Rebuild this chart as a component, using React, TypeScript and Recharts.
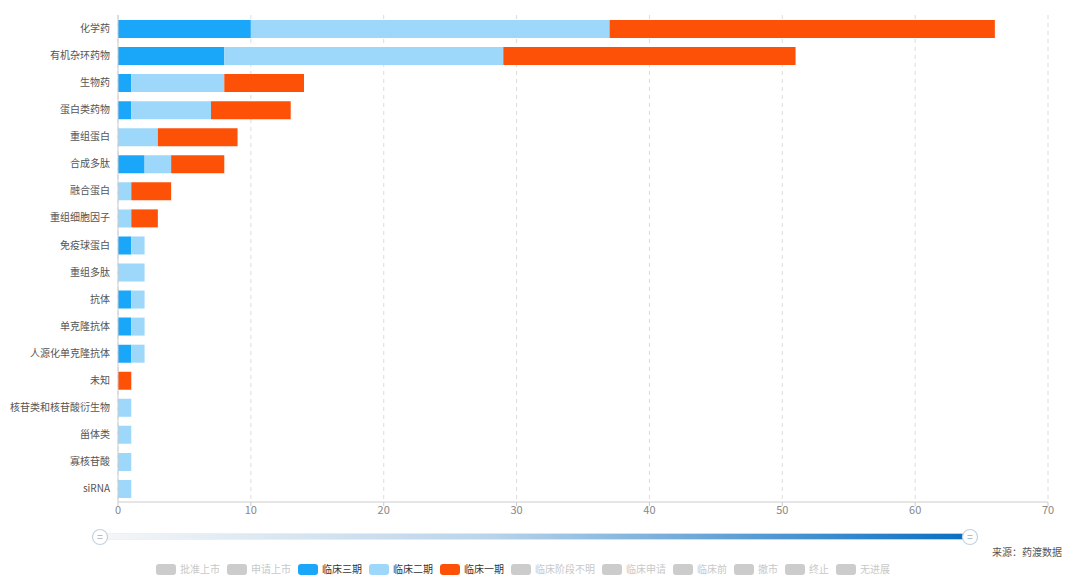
import React from "react";
import { BarChart, Bar, XAxis, YAxis, CartesianGrid } from "recharts";

const categories = [
  "化学药", "有机杂环药物", "生物药", "蛋白类药物", "重组蛋白", "合成多肽",
  "融合蛋白", "重组细胞因子", "免疫球蛋白", "重组多肽", "抗体", "单克隆抗体",
  "人源化单克隆抗体", "未知", "核苷类和核苷酸衍生物", "甾体类", "寡核苷酸", "siRNA",
];
const phase3 = [10, 8, 1, 1, 0, 2, 0, 0, 1, 0, 1, 1, 1, 0, 0, 0, 0, 0];
const phase2 = [27, 21, 7, 6, 3, 2, 1, 1, 1, 2, 1, 1, 1, 0, 1, 1, 1, 1];
const phase1 = [29, 22, 6, 6, 6, 4, 3, 2, 0, 0, 0, 0, 0, 1, 0, 0, 0, 0];
const xTicks = [0, 10, 20, 30, 40, 50, 60, 70];

const legendItems = [
  { name: "批准上市", color: "#cccccc", active: false },
  { name: "申请上市", color: "#cccccc", active: false },
  { name: "临床三期", color: "#1aa7fa", active: true },
  { name: "临床二期", color: "#9dd7fa", active: true },
  { name: "临床一期", color: "#fe5108", active: true },
  { name: "临床阶段不明", color: "#cccccc", active: false },
  { name: "临床申请", color: "#cccccc", active: false },
  { name: "临床前", color: "#cccccc", active: false },
  { name: "撤市", color: "#cccccc", active: false },
  { name: "终止", color: "#cccccc", active: false },
  { name: "无进展", color: "#cccccc", active: false },
];

const data = categories.map((name, i) => ({
  name,
  p3: phase3[i],
  p2: phase2[i],
  p1: phase1[i],
}));

const FONT = '"Microsoft YaHei", "Noto Sans CJK SC", sans-serif';

export default function App() {
  return (
    <div style={{ position: "absolute", left: 0, top: 0, width: 1080, height: 580, background: "#fff", fontFamily: FONT }}>
      <BarChart
        width={1080}
        height={580}
        data={data}
        layout="vertical"
        margin={{ top: 15, right: 32, bottom: 48, left: 0 }}
      >
        <CartesianGrid horizontal={false} vertical={true} stroke="#dcdcdc" strokeDasharray="4 4" />
        <XAxis
          type="number"
          domain={[0, 70]}
          ticks={xTicks}
          interval={0}
          height={30}
          axisLine={{ stroke: "#cccccc" }}
          tickLine={{ stroke: "#cccccc" }}
          tickSize={4}
          tickMargin={0}
          tick={{ fill: "#888", fontSize: 11, fontFamily: FONT }}
        />
        <YAxis
          type="category"
          dataKey="name"
          width={118}
          interval={0}
          axisLine={{ stroke: "#cccccc" }}
          tickLine={false}
          tickSize={0}
          tickMargin={8}
          tick={{ fill: "#555", fontSize: 10, fontFamily: FONT }}
        />
        <Bar dataKey="p3" stackId="a" fill="#1aa7fa" barSize={18} isAnimationActive={false} />
        <Bar dataKey="p2" stackId="a" fill="#9dd7fa" barSize={18} isAnimationActive={false} />
        <Bar dataKey="p1" stackId="a" fill="#fe5108" barSize={18} isAnimationActive={false} />
      </BarChart>

      <svg style={{ position: "absolute", left: 0, top: 0 }} width={1080} height={580}>
        <defs>
          <linearGradient id="slider" x1="0" y1="0" x2="1" y2="0">
            <stop offset="0%" stopColor="#f4f6f8" />
            <stop offset="45%" stopColor="#b9d4ea" />
            <stop offset="100%" stopColor="#0a6fc2" />
          </linearGradient>
        </defs>
        <rect x={104} y={533.5} width={860} height={6} rx={2} fill="url(#slider)" stroke="#e4e8ec" strokeWidth={0.5} />
        {[100, 970].map((cx) => (
          <g key={cx}>
            <circle cx={cx} cy={537} r={7.5} fill="#fff" stroke="#c4d2dc" strokeWidth={1.2} />
            <line x1={cx - 2.5} y1={535.5} x2={cx + 2.5} y2={535.5} stroke="#b0bcc6" strokeWidth={1} />
            <line x1={cx - 2.5} y1={538.5} x2={cx + 2.5} y2={538.5} stroke="#b0bcc6" strokeWidth={1} />
          </g>
        ))}
        <text x={1062} y={556} textAnchor="end" fontSize={10} fill="#555" fontFamily={FONT}>
          来源：药渡数据
        </text>
      </svg>

      <div
        style={{
          position: "absolute",
          left: 156,
          top: 563,
          display: "flex",
          alignItems: "center",
          whiteSpace: "nowrap",
          fontSize: 10,
          lineHeight: "12px",
        }}
      >
        {legendItems.map((it) => (
          <div key={it.name} style={{ display: "flex", alignItems: "center", marginRight: 7 }}>
            <div style={{ width: 20, height: 11, borderRadius: 3, background: it.color, marginRight: 4 }} />
            <span style={{ color: it.active ? "#333" : "#c8c8c8" }}>{it.name}</span>
          </div>
        ))}
      </div>
    </div>
  );
}
